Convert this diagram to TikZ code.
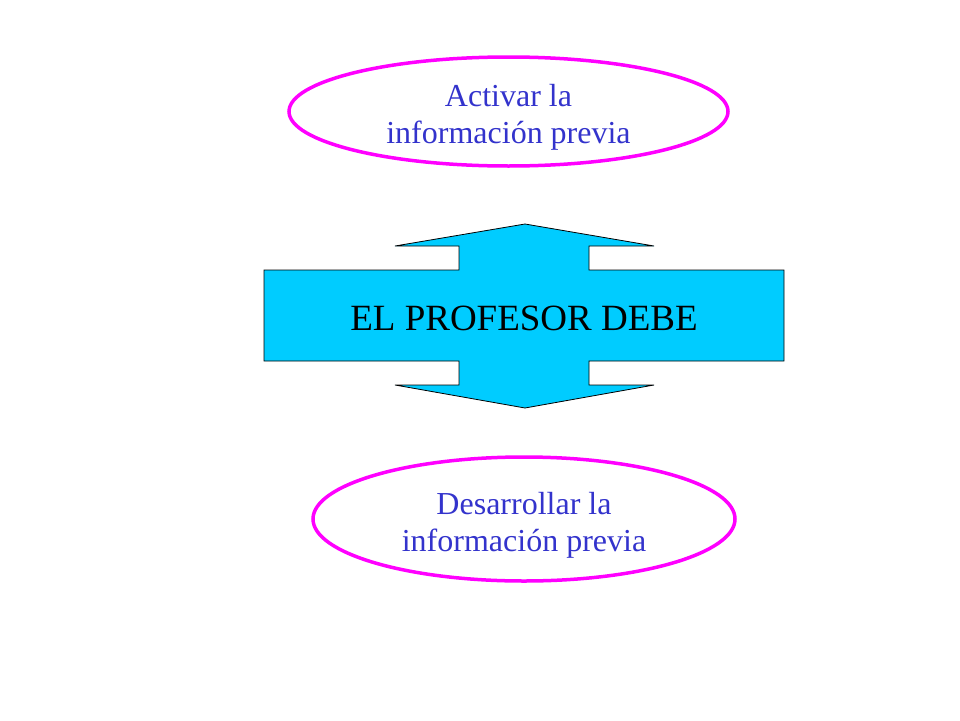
\documentclass[tikz,border=0pt]{standalone}
\usepackage{fontspec}
\setmainfont{Liberation Serif}
\usetikzlibrary{shapes.geometric}
\definecolor{flecha}{RGB}{0,204,255}
\definecolor{borde}{RGB}{255,0,255}
\definecolor{texto}{RGB}{51,51,204}
\tikzset{
  idea/.style={ellipse,draw=borde,line width=3.5pt,inner sep=0pt},
  ideatext/.style={text=texto,align=center,font=\fontsize{32}{37}\selectfont},
}
\begin{document}
\begin{tikzpicture}[x=1pt,y=-1pt]
      \useasboundingbox (0,0) rectangle (960,720);
      \coordinate (T) at (525,224);
      \coordinate (B) at (525,408);
      \draw[fill=flecha,line width=0.8pt] (T) -- (654,246) -- (589,246) -- (589,270)
        -- (784,270) -- (784,361) -- (589,361) -- (589,385) -- (654,385) -- (B)
        -- (395,385) -- (459,385) -- (459,361) -- (264,361) -- (264,270)
        -- (459,270) -- (459,246) -- (395,246) -- cycle;
      \node (profesor) at (524,318) {\fontsize{37}{40}\selectfont EL PROFESOR DEBE};
      \node[idea,minimum width=439,minimum height=109] (activar) at (508.5,111.5) {};
      \node[ideatext] (activartxt) at ([yshift=-6pt]activar.center)
        {Activar la\\ información previa};
      \node[idea,minimum width=422,minimum height=124] (desarrollar) at (524,519) {};
      \node[ideatext] (desarrollartxt) at ([yshift=-6pt]desarrollar.center)
        {Desarrollar la\\ información previa};
    \end{tikzpicture}
\end{document}
